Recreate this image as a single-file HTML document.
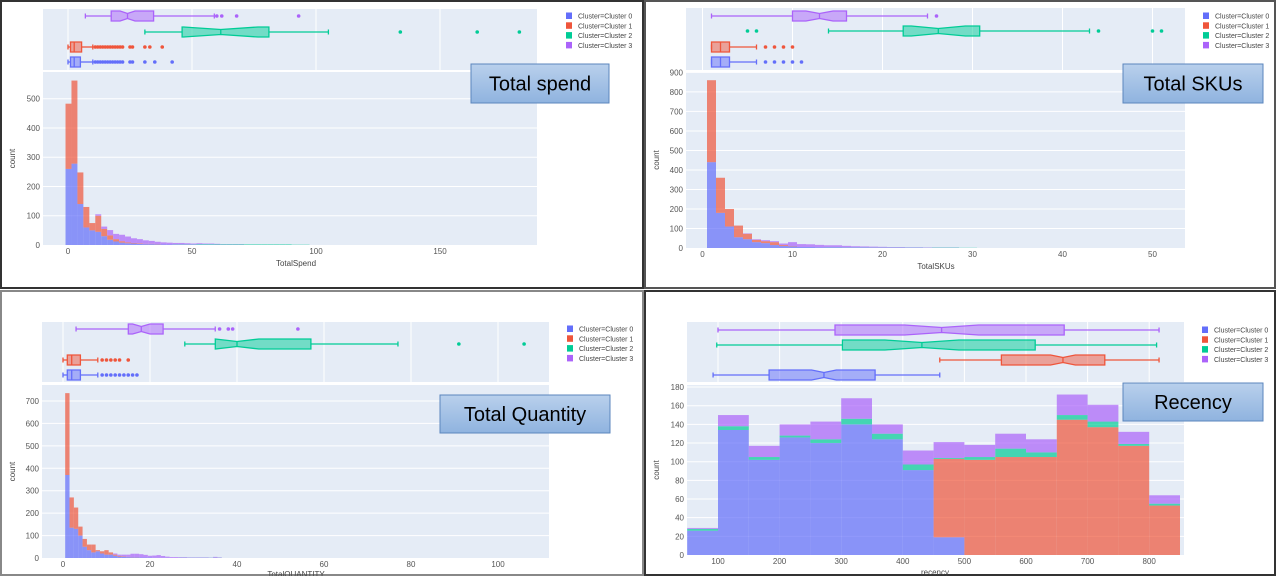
<!DOCTYPE html>
<html><head><meta charset="utf-8">
<style>
html,body{margin:0;padding:0;background:#fff;}
svg{display:block;font-family:"Liberation Sans",sans-serif;}
</style></head>
<body>
<svg id="chart" width="1276" height="576" viewBox="0 0 1276 576" xmlns="http://www.w3.org/2000/svg"></svg>
<script>
// ---------- DATA ----------
const clusterNames = ["Cluster=Cluster 0","Cluster=Cluster 1","Cluster=Cluster 2","Cluster=Cluster 3"];
// Total spend histogram (bin start -1, width 2.4)
const spendC0 = [260,278,140,60,50,45,30,18,12,8,6,5,4,3,3,2,2,2,1,1,1,1,1,1,1,0,0,0,0,0,0,0,0,0,0,0,0,0,0,0,0];
const spendC1 = [223,284,108,70,25,55,25,15,8,5,3,2,2,1,1,1,0,0,0,0,0,0,0,0,0,0,0,0,0,0,0,0,0,0,0,0,0,0,0,0,0];
const spendC2 = [0,0,0,0,0,0,0,0,0,0,0,0,0,0,0,0,0,0,1,1,1,1,2,2,2,2,2,2,2,2,2,2,2,2,2,2,2,2,1,1,1];
const spendC3 = [0,0,0,0,0,5,8,18,18,22,20,16,14,12,10,8,7,6,5,5,4,3,3,2,2,2,1,1,1,1,0,0,0,0,0,0,0,0,0,0,0];
const spendBox = [[0,1,2.5,5,10,0],[0,1,2.5,5.5,10,0],[31,46,61.6,81,105,15],[7,17.4,24,34.5,59,3]];
const spendOut0 = [11,12,13,14,15,16,17,18,19,20,21,22,25,26,31,35,42];
const spendOut1 = [11,12,13,14,15,16,17,18,19,20,21,22,25,26,31,33,38];
const spendOut2 = [134,165,182];
const spendOut3 = [60,62,68,93];
const spendTicksX = [0,50,100,150];
const spendTicksY = [0,100,200,300,400,500];
// Total SKUs histogram (bin start 0.5, width 1)
const skuC0 = [440,180,110,55,45,30,25,15,10,8,5,5,4,3,3,2,2,2,1,1,1,1,1,1,0,0,0,0,0,0];
const skuC1 = [420,180,90,60,28,12,10,15,5,2,0,0,0,0,0,0,0,0,0,0,0,0,0,0,0,0,0,0,0,0];
const skuC2 = [0,0,0,0,0,0,0,0,0,0,0,0,0,1,1,1,1,1,1,1,1,1,1,1,1,2,2,2,1,1];
const skuC3 = [0,0,0,0,2,3,5,5,8,20,15,14,12,10,10,8,6,5,5,4,3,3,2,2,2,1,1,1,0,0];
const skuBox = [[1,1,2,3,6,0],[1,1,2,3,6,0],[14,22.3,26.2,30.8,43,3],[1,10,13,16,25,1.5]];
const skuOut0 = [7,8,9,10,11];
const skuOut1 = [7,8,9,10];
const skuOut2 = [5,6,44,50,51];
const skuOut3 = [26];
const skuTicksX = [0,10,20,30,40,50];
const skuTicksY = [0,100,200,300,400,500,600,700,800,900];
// Total quantity histogram (bin start 0.5, width 1)
const qtyC0 = [370,135,130,100,50,35,25,30,20,15,15,10,6,5,4,3,3,2,2,2,1,1,1,1,0,0,0,0,0,0,0,0,0,0,0,0];
const qtyC1 = [365,135,95,40,35,25,35,5,10,20,10,5,3,2,1,1,1,0,0,0,0,0,0,0,0,0,0,0,0,0,0,0,0,0,0,0];
const qtyC2 = [0,0,0,0,0,0,0,0,0,0,0,0,0,0,0,0,0,0,0,0,0,0,0,0,0,0,1,1,1,1,1,1,1,1,1,1];
const qtyC3 = [0,0,0,0,0,0,0,0,0,0,0,5,6,8,10,15,15,15,12,8,10,12,8,5,4,4,3,3,2,2,2,2,2,1,4,2];
const qtyBox = [[0,1,2,4,8,0],[0,1,2,4,8,0],[28,35,40,57,77,5],[3,15,18,23,35,2]];
const qtyOut0 = [9,10,11,12,13,14,15,16,17];
const qtyOut1 = [9,10,11,12,13,15];
const qtyOut2 = [91,106];
const qtyOut3 = [36,38,39,54];
const qtyTicksX = [0,20,40,60,80,100];
const qtyTicksY = [0,100,200,300,400,500,600,700];
// Recency histogram (bin start 50, width 50)
const recC0 = [26,134,102,126,120,140,124,91,19,0,0,0,0,0,0,0];
const recC1 = [0,0,0,0,0,0,0,0,84,102,105,105,145,137,117,53];
const recC2 = [2,4,3,2,4,6,6,6,1,3,9,5,5,6,2,2];
const recC3 = [1,12,12,12,19,22,10,15,17,13,16,14,22,18,13,9];
const recBox = [[92,183,272,355,460,20],[460,560,660,728,816,20],[98,302,431,615,812,60],[100,290,463,662,816,60]];
const recOut0 = [];
const recOut1 = [];
const recOut2 = [];
const recOut3 = [];
const recTicksX = [100,200,300,400,500,600,700,800];
const recTicksY = [0,20,40,60,80,100,120,140,160,180];

// ---------- RENDER ----------
const NS = "http://www.w3.org/2000/svg";
const svg = document.getElementById("chart");
const COLORS = ["#636efa","#ef553b","#00cc96","#ab63fa"];
function mk(tag, attrs, parent){
  const e = document.createElementNS(NS, tag);
  for (const k in attrs) e.setAttribute(k, attrs[k]);
  (parent||svg).appendChild(e);
  return e;
}

function panel(p){
  const g = mk("g", {});
  
  
  const fr = mk("rect", {x:p.frame[0], y:p.frame[1], width:p.frame[2], height:p.frame[3], fill:"none", stroke:p.frameColor, "stroke-width":2}, g);
  
  
  const sx = v => p.px0 + (v - p.x0) * p.kx;
  const ba = mk("rect", {x:p.L, y:p.bT, width:p.R-p.L, height:p.bB-p.bT, fill:"#e5ecf6"}, g);
  
  
  const ha = mk("rect", {x:p.L, y:p.hT, width:p.R-p.L, height:p.hB-p.hT, fill:"#e5ecf6"}, g);
  
  
  const sy = v => p.hB - v * p.ky;
  p.ticksX.forEach(t => {
    const gl = mk("line", {x1:sx(t), x2:sx(t), y1:p.bT, y2:p.bB, stroke:"#fff", "stroke-width":1}, g);
    
    
    const tl = mk("text", {x:sx(t), y:p.hB+9, "font-size":8, fill:"#555", "text-anchor":"middle"}, g);
    tl.textContent = t;
    
    
  });
  p.ticksY.forEach(t => {
    if (t > 0) {
      const gl = mk("line", {x1:p.L, x2:p.R, y1:sy(t), y2:sy(t), stroke:"#fff", "stroke-width":1}, g);
      
      
    }
    const tl = mk("text", {x:p.L-3, y:sy(t)+3, "font-size":8, fill:"#555", "text-anchor":"end"}, g);
    tl.textContent = t;
    
    
  });
  const cum = new Array(p.hist[0].length).fill(0);
  p.hist.forEach((arr, ci) => {
    arr.forEach((v, i) => {
      if (v <= 0) return;
      const a = p.binStart + i * p.binW, b = a + p.binW;
      const y0 = sy(cum[i]), y1 = sy(cum[i] + v);
      const r = mk("rect", {x:sx(a), y:y1, width:sx(b)-sx(a), height:y0-y1, fill:COLORS[ci], "fill-opacity":0.7}, g);
      
      
      cum[i] += v;
    });
  });
  p.boxes.forEach((bx, ci) => {
    const cy = p.rows[ci], h = 5, col = COLORS[ci];
    const [lo,q1,md,q3,hi,ns] = bx;
    const wl = mk("line", {x1:sx(lo), x2:sx(q1), y1:cy, y2:cy, stroke:col, "stroke-width":1.3}, g);
    
    
    const wh = mk("line", {x1:sx(q3), x2:sx(hi), y1:cy, y2:cy, stroke:col, "stroke-width":1.3}, g);
    
    
    [lo,hi].forEach(v => {
      const c = mk("line", {x1:sx(v), x2:sx(v), y1:cy-2.5, y2:cy+2.5, stroke:col, "stroke-width":1.3}, g);
      
      
    });
    let pts;
    if (ns > 0) {
      const nl = Math.max(q1, md - ns), nr = Math.min(q3, md + ns);
      pts = [[q1,cy-h],[nl,cy-h],[md,cy-h/2],[nr,cy-h],[q3,cy-h],[q3,cy+h],[nr,cy+h],[md,cy+h/2],[nl,cy+h],[q1,cy+h]];
    } else {
      pts = [[q1,cy-h],[q3,cy-h],[q3,cy+h],[q1,cy+h]];
    }
    const ps = pts.map(q => sx(q[0]).toFixed(1)+","+q[1]).join(" ");
    const poly = mk("polygon", {points:ps, fill:col, "fill-opacity":0.5, stroke:col, "stroke-width":1.3}, g);
    
    
    const mh = ns > 0 ? h/2 : h;
    const ml = mk("line", {x1:sx(md), x2:sx(md), y1:cy-mh, y2:cy+mh, stroke:col, "stroke-width":1.3}, g);
    
    
    p.outs[ci].forEach(v => {
      const d = mk("circle", {cx:sx(v), cy:cy, r:1.8, fill:col}, g);
      
      
    });
  });
  clusterNames.forEach((n, ci) => {
    const ly = p.legY + ci * 9.8;
    const sw = mk("rect", {x:p.legX, y:ly-3.5, width:6, height:6.5, fill:COLORS[ci]}, g);
    
    
    const lt = mk("text", {x:p.legX+12, y:ly+2.5, "font-size":7, fill:"#444"}, g);
    lt.textContent = n;
    
    
  });
  const xt = mk("text", {x:p.xTitle[0], y:p.xTitle[1], "font-size":8, fill:"#444", "text-anchor":"middle"}, g);
  xt.textContent = p.xLabel;
  
  
  const yc = (p.hT + p.hB) / 2;
  const yt = mk("text", {x:p.frame[0]+14, y:yc, "font-size":8, fill:"#444", "text-anchor":"middle", transform:"rotate(-90 "+(p.frame[0]+14)+" "+yc+")"}, g);
  yt.textContent = "count";
  
  
  const [lx,ly,lw,lh] = p.label;
  const lb = mk("rect", {x:lx, y:ly, width:lw, height:lh, fill:"url(#calloutGrad)", stroke:"#5b86bd", "stroke-width":1}, g);
  
  
  const ltx = mk("text", {x:lx+lw/2, y:ly+lh/2+7, "font-size":20, fill:"#000", "text-anchor":"middle"}, g);
  ltx.textContent = p.title;
  
  
}

const defs = mk("defs", {});
const lg = mk("linearGradient", {id:"calloutGrad", x1:0, y1:0, x2:0, y2:1}, defs);
mk("stop", {offset:"0", "stop-color":"#b9d0ec"}, lg);
mk("stop", {offset:"1", "stop-color":"#8fb3df"}, lg);

panel({name:"total-spend", frame:[1,1,642,287], frameColor:"#333",
  L:43, R:537, bT:9, bB:70, hT:72, hB:245, x0:0, px0:68, kx:2.48, ky:0.2926,
  ticksX:spendTicksX, ticksY:spendTicksY, binStart:-1, binW:2.4,
  hist:[spendC0,spendC1,spendC2,spendC3], boxes:spendBox, rows:[62,47,32,16],
  outs:[spendOut0,spendOut1,spendOut2,spendOut3], legX:566, legY:16,
  xLabel:"TotalSpend", xTitle:[296,266], label:[471,64,138,39], title:"Total spend"});
panel({name:"total-skus", frame:[645,1,630,287], frameColor:"#555",
  L:686, R:1185, bT:8, bB:70, hT:72, hB:248, x0:0, px0:702.5, kx:9.0, ky:0.1951,
  ticksX:skuTicksX, ticksY:skuTicksY, binStart:0.5, binW:1,
  hist:[skuC0,skuC1,skuC2,skuC3], boxes:skuBox, rows:[62,47,31,16],
  outs:[skuOut0,skuOut1,skuOut2,skuOut3], legX:1203, legY:16,
  xLabel:"TotalSKUs", xTitle:[936,269], label:[1123,64,140,39], title:"Total SKUs"});
panel({name:"total-quantity", frame:[1,291,642,284], frameColor:"#888",
  L:42, R:549, bT:322, bB:382, hT:385, hB:558, x0:0, px0:63, kx:4.35, ky:0.2243,
  ticksX:qtyTicksX, ticksY:qtyTicksY, binStart:0.5, binW:1,
  hist:[qtyC0,qtyC1,qtyC2,qtyC3], boxes:qtyBox, rows:[375,360,344,329],
  outs:[qtyOut0,qtyOut1,qtyOut2,qtyOut3], legX:567, legY:329,
  xLabel:"TotalQUANTITY", xTitle:[296,577], label:[440,395,170,38], title:"Total Quantity"});
panel({name:"recency", frame:[645,291,630,284], frameColor:"#333",
  L:687, R:1184, bT:322, bB:382, hT:385, hB:555, x0:100, px0:718, kx:0.616, ky:0.933,
  ticksX:recTicksX, ticksY:recTicksY, binStart:50, binW:50,
  hist:[recC0,recC1,recC2,recC3], boxes:recBox, rows:[375,360,345,330],
  outs:[recOut0,recOut1,recOut2,recOut3], legX:1202, legY:330,
  xLabel:"recency", xTitle:[935,575], label:[1123,383,140,38], title:"Recency"});
</script>
</body></html>
